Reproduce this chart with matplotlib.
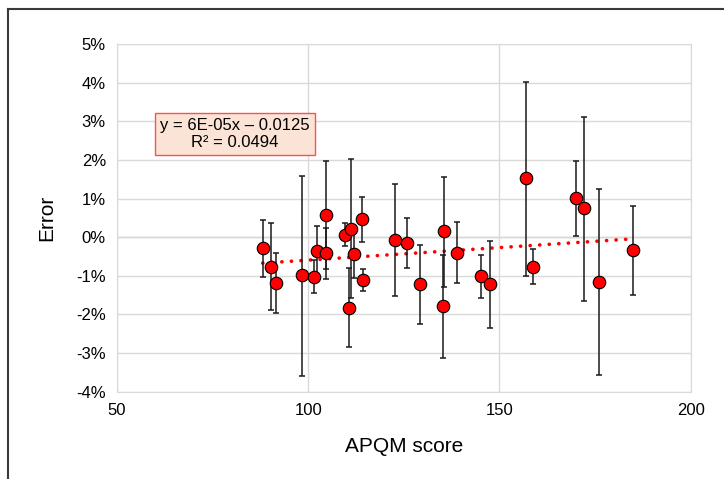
import numpy as np
import matplotlib.pyplot as plt
from matplotlib.ticker import FuncFormatter
from matplotlib.lines import Line2D

plt.rcParams['font.family'] = ['Liberation Sans', 'DejaVu Sans']

# APQM score, error (%) and error bar ends (%)
score = [88.1, 90.2, 91.5, 98.3, 101.6, 102.3, 104.7, 104.7, 109.7, 111.2,
         110.7, 112.0, 114.0, 114.4, 122.7, 125.8, 129.3, 135.5, 135.3, 138.9,
         145.3, 147.5, 156.9, 158.7, 170.0, 172.2, 176.1, 184.8]
error = [-0.29, -0.76, -1.18, -0.99, -1.03, -0.35, 0.57, -0.41, 0.07, 0.21,
         -1.83, -0.44, 0.47, -1.10, -0.07, -0.14, -1.22, 0.15, -1.79, -0.40,
         -1.00, -1.22, 1.52, -0.76, 1.01, 0.75, -1.15, -0.34]
err_hi = [0.45, 0.36, -0.40, 1.59, -0.59, 0.29, 1.97, 0.24, 0.38, 2.02,
          -0.80, 0.18, 1.04, -0.81, 1.38, 0.51, -0.19, 1.56, -0.47, 0.40,
          -0.45, -0.10, 4.03, -0.31, 1.98, 3.12, 1.25, 0.81]
err_lo = [-1.02, -1.88, -1.97, -3.58, -1.45, -0.98, -0.83, -1.08, -0.24, -1.58,
          -2.85, -1.06, -0.13, -1.38, -1.52, -0.80, -2.25, -1.28, -3.13, -1.19,
          -1.57, -2.35, -1.00, -1.22, 0.04, -1.64, -3.57, -1.49]

x = np.array(score)
y = np.array(error)
yerr = [y - np.array(err_lo), np.array(err_hi) - y]

fig = plt.figure(figsize=(7.24, 4.79), dpi=100)
ax = fig.add_axes([0.1616, 0.1822, 0.7924, 0.7258])

ax.set_xlim(50, 200)
ax.set_ylim(-4, 5)
ax.set_xticks([50, 100, 150, 200])
ax.set_yticks(range(-4, 6))
ax.yaxis.set_major_formatter(FuncFormatter(lambda v, p: '%d%%' % v))
ax.grid(True, color='#d9d9d9', lw=1)
ax.set_axisbelow(True)
ax.axhline(0, color='#bfbfbf', lw=1, zorder=0.5)
for s in ax.spines.values():
    s.set_color('#d9d9d9')
ax.tick_params(length=0, labelsize=12, pad=8)

# trend line (least squares)
k, b = np.polyfit(x / 100, y / 100, 1)
xs = np.linspace(x.min(), x.max(), 50)
ax.plot(xs, (k * xs / 100 + b) * 100, color='red', lw=2.6,
        linestyle=(0, (0.05, 2.6)), dash_capstyle='round', zorder=2)

ax.errorbar(x, y, yerr=yerr, fmt='none', ecolor='#1a1a1a', elinewidth=1.1,
            capsize=2.5, capthick=1.1, zorder=3)
ax.plot(x, y, 'o', color='red', mec='black', mew=0.8, ms=9, zorder=4)

ax.set_xlabel('APQM score', fontsize=15, labelpad=14)
ax.set_ylabel('Error', fontsize=15, labelpad=14)

ax.annotate('y = 6E-05x \u2013 0.0125\nR\u00b2 = 0.0494', xy=(235 / 724, 1 - 134 / 479),
            xycoords='figure fraction', ha='center', va='center', fontsize=12,
            linespacing=1.1, multialignment='center',
            bbox=dict(boxstyle='square,pad=0.3', fc='#fbe3d6', ec='#ff5050', lw=1))

# outer frame (left and top edges)
fig.add_artist(Line2D([8 / 724, 8 / 724], [0, 1 - 9 / 479], color='#3a3a3a', lw=1.5))
fig.add_artist(Line2D([8 / 724, 1], [1 - 9 / 479, 1 - 9 / 479], color='#3a3a3a', lw=1.5))

fig.savefig('out.png', dpi=100)
